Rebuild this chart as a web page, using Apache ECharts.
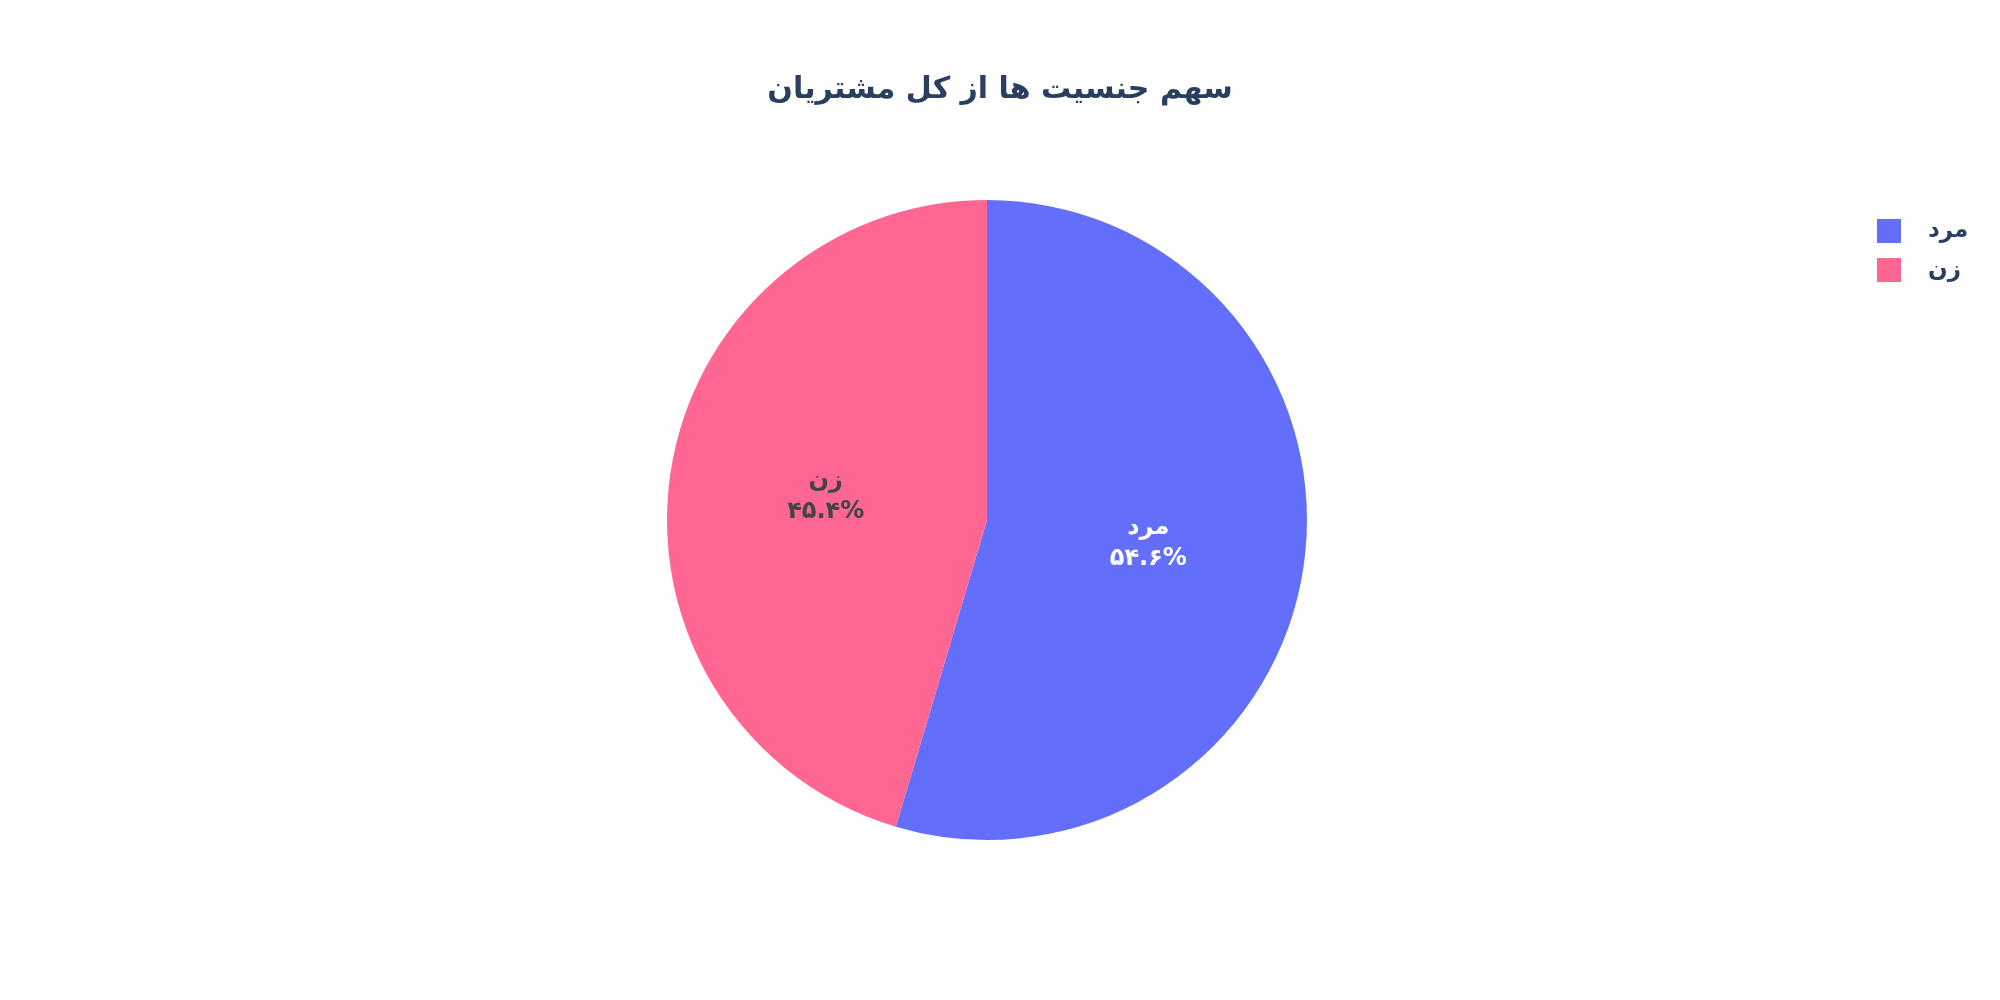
<!DOCTYPE html>
<html><head><meta charset="utf-8">
<script src="https://cdn.jsdelivr.net/npm/echarts@6/dist/echarts.min.js"></script>
<style>html,body{margin:0;padding:0;background:#fff}#c{width:2000px;height:1000px}</style>
</head><body><div id="c"></div>
<script>
const categories = ['مرد', 'زن'];
const values = [54.6, 45.4];
const percentLabels = ['۵۴.۶%', '۴۵.۴%'];
const colors = ['#636EFA', '#FF6692'];
const labelColors = ['#ffffff', '#444444'];

const chart = echarts.init(document.getElementById('c'), null, {renderer: 'canvas'});
const FONT = 'DejaVu Sans';
chart.setOption({
  animation: false,
  backgroundColor: '#ffffff',
  title: {
    text: 'سهم جنسیت ها از کل مشتریان',
    left: 'center', top: 70,
    textStyle: {fontFamily: FONT, fontSize: 30, fontWeight: 'bold', color: '#2a3f5f'}
  },
  legend: {
    orient: 'vertical', left: 1872, top: 214,
    itemWidth: 24, itemHeight: 24, itemGap: 15, icon: 'rect',
    textStyle: {fontFamily: FONT, fontSize: 23, fontWeight: 'bold', color: '#2a3f5f', padding: [0,0,0,22]},
    data: categories
  },
  series: [{
    type: 'pie',
    center: [987, 520],
    radius: [0, 320],
    startAngle: 90,
    clockwise: true,
    silent: true,
    itemStyle: {borderWidth: 0},
    label: {
      position: 'inside',
      fontFamily: FONT, fontSize: 24, fontWeight: 'bold', lineHeight: 31
    },
    labelLine: {show: false},
    data: categories.map((c, i) => ({
      name: c, value: values[i],
      itemStyle: {color: colors[i]},
      label: {color: labelColors[i], formatter: c + '\n' + percentLabels[i]}
    }))
  }]
});
</script></body></html>
